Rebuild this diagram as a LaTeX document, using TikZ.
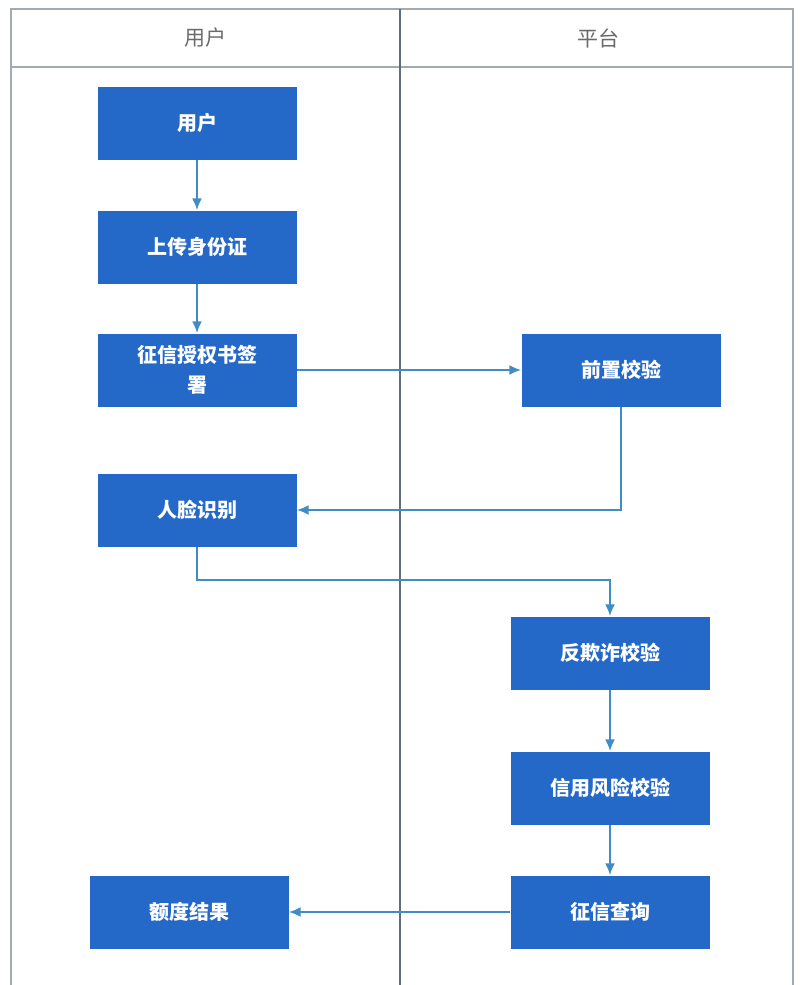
\documentclass[tikz,border=0pt]{standalone}
\usepackage{fontspec}
\newfontfamily\cjk{Noto Sans CJK SC}
\usetikzlibrary{arrows.meta}

\definecolor{boxblue}{HTML}{2468C8}
\definecolor{flowblue}{HTML}{3F8DC4}
\definecolor{lanegray}{HTML}{A3AAB0}
\definecolor{lanedark}{HTML}{5F6E7C}
\definecolor{headtext}{HTML}{6A6A6A}

\tikzset{
  stepbox/.style={fill=boxblue, text=white, minimum width=199pt, minimum height=73pt,
    inner sep=0pt, align=center, font=\cjk\bfseries\fontsize{20}{30}\selectfont},
  lanehead/.style={text=headtext, font=\cjk\fontsize{21}{24}\selectfont},
  flow/.style={draw=flowblue, line width=2.2pt, -{Latex[length=12pt,width=10pt]}},
}

\begin{document}
\begin{tikzpicture}[x=1pt,y=-1pt]
    \useasboundingbox (0,0) rectangle (802,985);

    % Swimlanes
    \draw[lanegray, line width=1.6pt] (11,985) -- (11,9) -- (793,9) -- (793,985);
    \draw[lanegray, line width=1.6pt] (11,67) -- (793,67);
    \draw[lanedark, line width=2pt] (400,9) -- (400,985);
    \node[lanehead] (laneuser) at (205,38) {用户};
    \node[lanehead] (laneplat) at (598,38) {平台};

    % Steps of the user
    \node[stepbox] (user) at (197,123) {用户};
    \node[stepbox] (upload) at (197,247) {上传身份证};
    \node[stepbox] (auth) at (197,370) {征信授权书签\\署};
    \node[stepbox] (face) at (197,510) {人脸识别};
    \node[stepbox] (quota) at (189,912) {额度结果};

    % Steps of the platform
    \node[stepbox] (precheck) at (621,370) {前置校验};
    \node[stepbox] (antifraud) at (610,653) {反欺诈校验};
    \node[stepbox] (risk) at (610,788) {信用风险校验};
    \node[stepbox] (query) at (610,912) {征信查询};

    % Flow
    \draw[flow] (user) -- (upload);
    \draw[flow] (upload) -- (auth);
    \draw[flow] (auth) -- (precheck);
    \draw[flow] (precheck.south) |- (face.east);
    \draw[flow] (face.south) -- ++(0,33) -| (antifraud.north);
    \draw[flow] (antifraud) -- (risk);
    \draw[flow] (risk) -- (query);
    \draw[flow] (query) -- (quota);
\end{tikzpicture}
\end{document}
